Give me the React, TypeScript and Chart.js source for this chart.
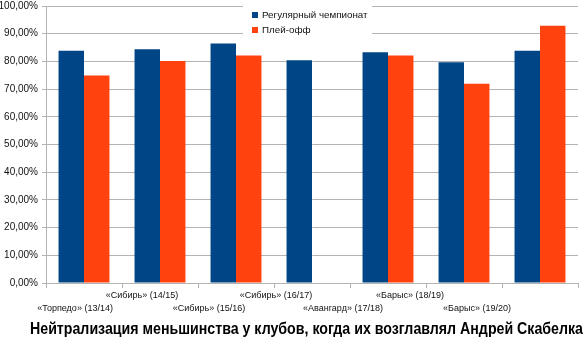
import React, { useEffect, useRef } from "react";
import { Chart, registerables } from "chart.js";

Chart.register(...registerables);

const categories = [
  "«Торпедо» (13/14)",
  "«Сибирь» (14/15)",
  "«Сибирь» (15/16)",
  "«Сибирь» (16/17)",
  "«Авангард» (17/18)",
  "«Барыс» (18/19)",
  "«Барыс» (19/20)",
];
const regularSeason = [83.8, 84.4, 86.5, 80.4, 83.3, 79.7, 83.8];
const playoffs = [74.9, 80.1, 82.1, null, 82.1, 71.9, 92.9];
const seriesNames = ["Регулярный чемпионат", "Плей-офф"];
const seriesColors = ["#004586", "#ff420e"];
const chartTitle = "Нейтрализация меньшинства у клубов, когда их возглавлял Андрей Скабелка";

const FONT = "'Liberation Sans', Arial, sans-serif";
const TITLE_FONT = "'Liberation Sans Narrow', 'Liberation Sans', Arial, sans-serif";

const insideLegend = {
  id: "insideLegend",
  afterDraw(chart: any) {
    const ctx = chart.ctx;
    const area = chart.chartArea;
    const x0 = area.left + 197;
    const y0 = area.top - 4;
    ctx.save();
    ctx.fillStyle = "#ffffff";
    ctx.fillRect(x0, y0, 129, 36);
    ctx.font = `9.8px ${FONT}`;
    ctx.textBaseline = "middle";
    chart.data.datasets.forEach((ds: any, i: number) => {
      const cy = y0 + 13 + i * 15;
      ctx.fillStyle = ds.backgroundColor;
      ctx.fillRect(x0 + 9, cy - 3, 6, 6);
      ctx.fillStyle = "#111";
      ctx.fillText(ds.label, x0 + 19, cy);
    });
    ctx.restore();
  },
};

const bottomTitle = {
  id: "bottomTitle",
  afterDraw(chart: any) {
    const ctx = chart.ctx;
    ctx.save();
    ctx.fillStyle = "#000";
    ctx.font = `bold 17px ${TITLE_FONT}`;
    ctx.textAlign = "center";
    ctx.textBaseline = "middle";
    ctx.fillText(chartTitle, 306.5, 329, 553);
    ctx.restore();
  },
};

export default function App() {
  const ref = useRef<HTMLCanvasElement>(null);
  useEffect(() => {
    document.body.style.margin = "0";
    const chart = new Chart(ref.current!, {
      type: "bar",
      data: {
        labels: categories,
        datasets: [
          { label: seriesNames[0], data: regularSeason, backgroundColor: seriesColors[0] },
          { label: seriesNames[1], data: playoffs as any, backgroundColor: seriesColors[1] },
        ],
      },
      options: {
        responsive: false,
        animation: false,
        layout: { padding: { top: 6, right: 10, left: 0, bottom: 33 } },
        datasets: { bar: { categoryPercentage: 0.67, barPercentage: 1.0 } },
        scales: {
          x: {
            type: "category",
            position: "bottom",
            weight: 0,
            offset: true,
            grid: { drawOnChartArea: false, drawTicks: true, tickLength: 5, offset: true, color: "#b3b3b3" },
            border: { color: "#b3b3b3" },
            ticks: { display: false },
            afterFit: (s: any) => { s.height = 6; s.paddingLeft = 0; s.paddingRight = 0; },
          },
          x2: {
            type: "linear",
            position: "bottom",
            weight: 1,
            offset: false,
            bounds: "data",
            min: -0.433,
            max: 7.507,
            grid: { display: false, drawTicks: false, offset: false },
            border: { display: false },
            afterBuildTicks: (s: any) => { s.ticks = categories.map((_, i) => ({ value: i })); },
            ticks: {
              autoSkip: false, includeBounds: false, maxRotation: 0, minRotation: 0, padding: 0,
              color: "#111",
              font: { family: FONT, size: 9, lineHeight: 1.45 },
              callback: (v: any) => {
                const i = Number(v);
                const lbl = categories[i];
                if (lbl === undefined) return "";
                return i % 2 === 0 ? ["", lbl] : lbl;
              },
            },
            afterFit: (s: any) => { s.height = 29; s.paddingLeft = 0; s.paddingRight = 0; },
          },
          y: {
            min: 0, max: 100,
            grid: { color: "#b3b3b3", tickLength: 4 },
            border: { color: "#b3b3b3" },
            ticks: {
              stepSize: 10, padding: 4, color: "#111",
              font: { family: FONT, size: 10 },
              callback: (v: any) => Number(v).toFixed(2).replace(".", ",") + "%",
            },
            afterFit: (s: any) => { s.width = 46; s.paddingTop = 0; s.paddingBottom = 0; },
          },
        },
        plugins: { legend: { display: false }, tooltip: { enabled: false }, title: { display: false } },
      },
      plugins: [insideLegend, bottomTitle],
    });
    return () => chart.destroy();
  }, []);
  return (
    <div style={{ width: 588, height: 351 }}>
      <canvas ref={ref} width={588} height={351} />
    </div>
  );
}
